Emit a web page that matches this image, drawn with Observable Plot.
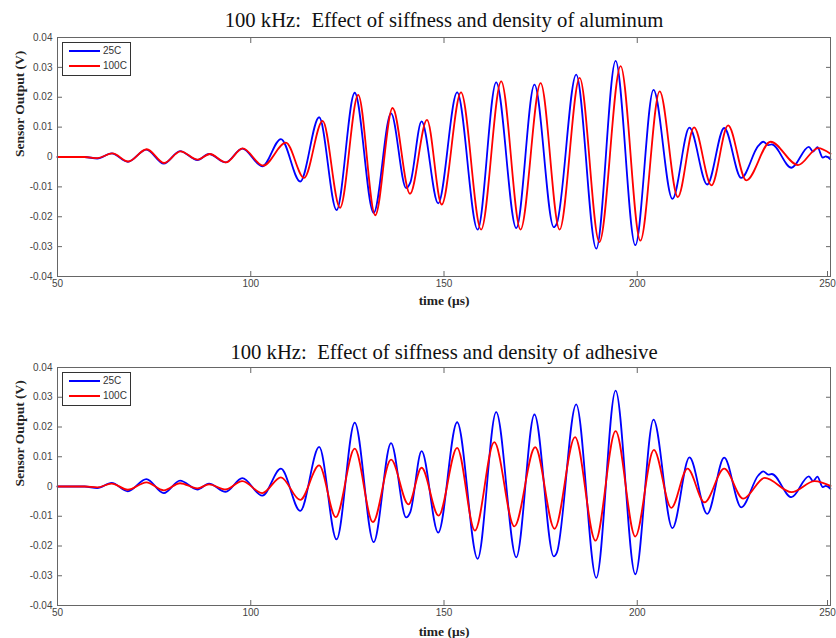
<!DOCTYPE html>
<html><head><meta charset="utf-8">
<script src="https://cdn.jsdelivr.net/npm/d3@7"></script>
<script src="https://cdn.jsdelivr.net/npm/@observablehq/plot@0.6"></script>
<style>
body{margin:0;background:#fff;}
#wrap{position:relative;width:836px;height:638px;overflow:hidden;}
#wrap svg{display:block;}
.legend{position:absolute;background:#fff;border:1px solid #333;box-sizing:border-box;width:69px;height:34px;font:10px Arial,"Liberation Sans",sans-serif;color:#333;}
.legend .ln{position:absolute;left:6px;width:31px;height:2px;}
.legend .tx{position:absolute;left:40px;line-height:10px;}
</style></head><body><div id="wrap"></div>
<script>
// ---- data ----
const panelTitles = ["100 kHz:  Effect of siffness and density of aluminum", "100 kHz:  Effect of siffness and density of adhesive"];
const seriesNames = ["25C", "100C"];
const xLabel = "time (μs)";
const yLabel = "Sensor Output (V)";
const xTicks = [50, 100, 150, 200, 250];
const yTicks = [-0.04, -0.03, -0.02, -0.01, 0, 0.01, 0.02, 0.03, 0.04];

// 25C reference signal (same in both panels)
const time25 = [50,57,60.3,64.0,68.2,73.0,77.5,81.7,86.2,89.2,93.5,97.8,103.0,107.8,112.8,117.7,122.2,126.9,131.8,136.3,140.2,141.3,144.2,148.5,153.4,158.7,163.5,168.7,173.4,178.4,179.2,184.2,189.4,194.4,199.5,204.2,209.1,213.5,218.1,222.5,226.9,231.3,232.6,233.9,234.8,239.9,244.4,245.5,246.6,248.0,248.8,250];
const volt25 = [0,0,-0.0005,0.0012,-0.0016,0.0025,-0.0022,0.002,-0.001,0.001,-0.0018,0.0028,-0.0031,0.006,-0.0082,0.0133,-0.0178,0.0215,-0.0187,0.0146,-0.0104,-0.0085,0.0119,-0.0155,0.0216,-0.0243,0.025,-0.0238,0.0242,-0.0235,-0.0222,0.0276,-0.0307,0.0322,-0.0295,0.0225,-0.014,0.0098,-0.0092,0.0097,-0.007,0.0037,0.0051,0.004,0.0042,-0.0036,0.0034,0.0018,0.0033,-0.0002,0.0002,-0.0008];

// 100C, aluminum properties
const timeAl100 = [50,57,60.3,64.2,68.3,73.1,77.6,81.8,86.3,89.4,93.6,97.9,103.2,109.1,113.8,118.6,123.1,127.8,132.2,136.7,141.2,145.6,149.4,154.4,159.6,164.8,169.8,175.0,179.9,185.1,190.2,195.7,200.8,205.8,210.5,214.7,219.2,223.5,228.2,234.5,241.6,246.8,250];
const voltAl100 = [0,0,-0.0004,0.0012,-0.0015,0.0026,-0.002,0.0019,-0.0009,0.001,-0.0018,0.0029,-0.0029,0.0048,-0.007,0.0121,-0.017,0.0208,-0.0195,0.0164,-0.0123,0.0124,-0.0159,0.0216,-0.0243,0.0253,-0.0243,0.0247,-0.0243,0.0265,-0.0285,0.0304,-0.028,0.022,-0.0134,0.0099,-0.0095,0.0106,-0.0078,0.0051,-0.0027,0.003,0.0011];

// 100C, adhesive properties
const timeAd100 = [50,57,60.3,64.0,68.2,73.0,77.5,81.7,86.2,89.2,93.5,97.8,103.0,107.8,112.8,117.7,122.0,126.9,131.6,136.3,140.8,144.2,148.6,153.4,158.0,163.0,168.2,173.6,178.6,183.9,189.2,194.4,199.5,204.3,208.8,213.0,217.4,222.5,227.4,233.0,239.9,245.9,250];
const voltAd100 = [0,0,-0.0003,0.001,-0.0011,0.0014,-0.0013,0.0011,-0.0006,0.0007,-0.001,0.0018,-0.0022,0.0031,-0.0045,0.0071,-0.0103,0.0127,-0.012,0.009,-0.006,0.0063,-0.0098,0.013,-0.0148,0.0149,-0.0134,0.0132,-0.0142,0.0166,-0.0182,0.0186,-0.0168,0.0123,-0.0072,0.006,-0.0053,0.006,-0.0041,0.0029,-0.0019,0.0018,0.0002];

const colors = ["#0000ff", "#ff0000"];

// ---- drawing ----
const fmtY = d => d === 0 ? "0" : d.toFixed(2);
const serif = "'Liberation Serif', 'Times New Roman', serif";
function panel(title, tRed, vRed, mt, mb, titleDy, xlabDy) {
  const blue = time25.map((t, i) => ({t, v: volt25[i]}));
  const red = tRed.map((t, i) => ({t, v: vRed[i]}));
  const tick = {tickSize: -5, stroke: "#666", label: null};
  return Plot.plot({
    width: 836, height: 319,
    marginLeft: 57, marginRight: 6, marginTop: mt, marginBottom: mb,
    style: {fontFamily: "Arial, 'Liberation Sans', sans-serif", fontSize: "10px", color: "#444", background: "#fff", overflow: "visible"},
    x: {domain: [50, 250]},
    y: {domain: [-0.04, 0.04]},
    marks: [
      Plot.axisX(xTicks.slice(0, -1), {...tick, anchor: "bottom", tickPadding: 8, tickFormat: d => String(d)}),
      Plot.axisX(xTicks.slice(-1), {...tick, anchor: "bottom", tickPadding: 8, dx: -3, tickFormat: d => String(d)}),
      Plot.axisX(xTicks, {...tick, anchor: "top", tickFormat: () => ""}),
      Plot.axisY(yTicks, {...tick, anchor: "left", tickPadding: 10, tickFormat: fmtY}),
      Plot.axisY(yTicks, {...tick, anchor: "right", tickFormat: () => ""}),
      Plot.line(blue, {x: "t", y: "v", stroke: colors[0], strokeWidth: 1.8, curve: "monotone-x"}),
      Plot.line(red, {x: "t", y: "v", stroke: colors[1], strokeWidth: 1.8, curve: "monotone-x"}),
      Plot.frame({stroke: "#666"}),
      Plot.text([title], {text: d => d, frameAnchor: "top", dy: titleDy, lineAnchor: "bottom", fontSize: 20.7, fontFamily: serif, fill: "#111"}),
      Plot.text([xLabel], {text: d => d, frameAnchor: "bottom", dy: xlabDy, lineAnchor: "middle", fontSize: 13.5, fontFamily: serif, fontWeight: "bold", fill: "#222"}),
      Plot.text([yLabel], {text: d => d, frameAnchor: "left", dx: -38, rotate: -90, lineAnchor: "middle", fontSize: 13.5, fontFamily: serif, fontWeight: "bold", fill: "#222"})
    ]
  });
}

const wrap = document.getElementById("wrap");
wrap.appendChild(panel(panelTitles[0], timeAl100, voltAl100, 37, 43, -11, 24));
wrap.appendChild(panel(panelTitles[1], timeAd100, voltAd100, 48, 33, -9, 26));

function legend(top, lineW) {
  const box = document.createElement("div");
  box.className = "legend";
  box.style.left = "62px";
  box.style.top = top + "px";
  seriesNames.forEach((name, i) => {
    const y = i === 0 ? 8 : 23;
    const ln = document.createElement("div");
    ln.className = "ln";
    ln.style.top = (y - lineW / 2) + "px";
    ln.style.height = lineW + "px";
    ln.style.background = colors[i];
    const tx = document.createElement("div");
    tx.className = "tx";
    tx.style.top = (y - 5) + "px";
    tx.textContent = name;
    box.appendChild(ln);
    box.appendChild(tx);
  });
  wrap.appendChild(box);
}
legend(42, 1.5);
legend(372, 2.5);
</script></body></html>
